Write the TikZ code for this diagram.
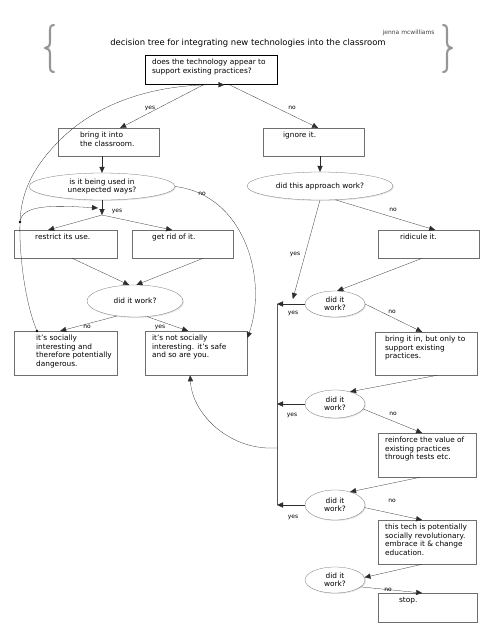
\documentclass[tikz,border=0pt]{standalone}
\usepackage{fontspec}
\setmainfont{DejaVu Sans}
\usepackage{tikz}
\usetikzlibrary{positioning, shapes.geometric, arrows.meta, shadows}
\definecolor{lineColor}{RGB}{45,45,45}
\definecolor{frameColor}{RGB}{110,110,110}
\definecolor{braceColor}{RGB}{150,150,150}
\newcommand{\boxFont}{\fontsize{10.5}{12}\selectfont}
\newcommand{\labelFont}{\fontsize{8.5}{10}\selectfont}
\tikzstyle{pixelGrid} = [x = .5mm, y = -.5mm]
\tikzstyle{shadowStyle} = [drop shadow = {opacity = .2, shadow xshift = .5mm, shadow yshift = -.5mm}]
\tikzstyle{boxStyle} = [draw = frameColor, fill = white, anchor = north west, inner sep = 0pt, shadowStyle]
\tikzstyle{boxText} = [anchor = north west, align = left, inner sep = 0pt, font = \boxFont]
\tikzstyle{questionStyle} = [ellipse, draw = frameColor, fill = white, inner sep = 0pt, align = center, font = \boxFont, shadowStyle]
\tikzstyle{flowArrow} = [draw = lineColor, line width = .4pt, -{Triangle[length = 3mm, width = 2.6mm]}]
\tikzstyle{flowLine} = [draw = lineColor!80, line width = .5pt]
\tikzstyle{branchLabel} = [font = \labelFont, inner sep = 0pt]
\tikzstyle{braceLine} = [draw = braceColor, line width = 3pt, line cap = round, line join = round]
\tikzstyle{loopDot} = [circle, fill = black, inner sep = 0pt, minimum size = 1.3mm]
\newcommand{\decisionBox}[7]{
  \node [boxStyle, minimum width = #4 * .5mm, minimum height = #5 * .5mm] (#1) at (#2, #3) {};
  \node [boxText] (#1Text) at ([xshift = #6 * .5mm, yshift = -2mm] #1.north west) {#7};
}
\newcommand{\questionNode}[6]{\node [questionStyle, minimum width = #4 * .5mm, minimum height = #5 * .5mm] (#1) at (#2, #3) {#6};}

\begin{document}
\begin{tikzpicture}[pixelGrid]
  \useasboundingbox (0,0) rectangle (495,640);
  \draw [braceLine] (54,25) .. controls (50,25) and (50,28) .. (50,32) -- (50,42) .. controls (50,46) and (48,48) .. (45,48) .. controls (48,48) and (50,50) .. (50,54) -- (50,65) .. controls (50,69) and (50,72) .. (54,72);
  \draw [braceLine] (443,25) .. controls (447,25) and (447,28) .. (447,32) -- (447,42) .. controls (447,46) and (449,48) .. (452,48) .. controls (449,48) and (447,50) .. (447,54) -- (447,65) .. controls (447,69) and (447,72) .. (443,72);
  \node [font = \fontsize{12}{14}\selectfont] (title) at (248,43) {decision tree for integrating new technologies into the classroom};
  \node [font = \fontsize{8.5}{10}\selectfont, text = black!75, anchor = east] (author) at (437,33) {jenna mcwilliams};

  \node [boxStyle, draw = black, line width = 1.1pt, minimum width = 66mm, minimum height = 14.5mm] (start) at (145,55) {};
  \node [boxText] (startText) at ([xshift = 3.5mm, yshift = -2mm] start.north west) {does the technology appear to\\support existing practices?};

  \decisionBox{bring}{58}{128}{101}{28}{22}{bring it into\\the classroom.}
  \decisionBox{ignore}{263}{128}{101}{28}{20}{ignore it.}
  \decisionBox{restrict}{14}{230}{103}{28}{21}{restrict its use.}
  \decisionBox{getRid}{132}{230}{101}{28}{20}{get rid of it.}
  \decisionBox{ridicule}{378}{230}{101}{28}{22}{ridicule it.}
  \decisionBox{dangerous}{14}{331}{103}{44}{22}{it's socially\\interesting and\\therefore potentially\\dangerous.}
  \decisionBox{safe}{145}{331}{102}{44}{7}{it's not socially\\interesting. it's safe\\and so are you.}
  \decisionBox{supportOnly}{375}{332}{102}{43}{10}{bring it in, but only to\\support existing\\practices.}
  \decisionBox{reinforce}{378}{433}{98}{44}{7}{reinforce the value of\\existing practices\\through tests etc.}
  \decisionBox{revolution}{378}{520}{98}{44}{7}{this tech is potentially\\socially revolutionary.\\embrace it \& change\\education.}
  \decisionBox{stop}{378}{593}{99}{29}{21}{stop.}

  \questionNode{unexpected}{102}{186.5}{146}{27}{is it being used in\\unexpected ways?}
  \questionNode{approach}{320}{186}{146}{28}{did this approach work?}
  \questionNode{worked}{135}{301}{96}{32}{did it work?}
  \questionNode{workedA}{335}{304}{60}{26}{did it\\work?}
  \questionNode{workedB}{335}{404}{60}{28}{did it\\work?}
  \questionNode{workedC}{335}{505}{60}{30}{did it\\work?}
  \questionNode{workedD}{335}{580}{60}{26}{did it\\work?}

  \coordinate (yesSplit) at (102,215);
  \coordinate (busA) at (277,304);
  \coordinate (busB) at (277,404);
  \coordinate (busC) at (277,505);
  \coordinate (busMid) at (277,448);
  \node [loopDot] (dotLow) at ([xshift = 11.5mm] dangerous.north west) {};
  \node [loopDot] (dotHigh) at (20,222) {};

  \draw [flowArrow] ([xshift = -4mm] start.south) -- ([xshift = 5.75mm] bring.north);
  \draw [flowArrow] ([xshift = 9mm] start.south) -- ([xshift = 2.25mm] ignore.north);
  \draw [flowArrow] (unexpected.north |- bring.south) -- (unexpected.north);
  \draw [flowArrow] (approach.north |- ignore.south) -- (approach.north);
  \draw [flowArrow] (unexpected.south) -- (yesSplit);
  \draw [flowArrow] (yesSplit) -- ([xshift = -8.75mm] restrict.north);
  \draw [flowArrow] (yesSplit) -- ([xshift = -5.25mm] getRid.north);
  \draw [flowArrow] ([xshift = 3.25mm] restrict.south) -- (worked.110);
  \draw [flowArrow] ([xshift = 10.25mm] getRid.south) -- (worked.85);
  \draw [flowArrow] (worked.-140) -- ([xshift = -2.75mm] dangerous.north);
  \draw [flowArrow] (worked.-52) -- ([xshift = -4mm] safe.north);

  \draw [flowArrow] (approach.-42) -- ([xshift = 3.25mm] ridicule.north);
  \draw [flowArrow] (approach.south) -- ([xshift = -6mm, yshift = 2.5mm] workedA.west);
  \draw [flowArrow] ([xshift = -3.25mm] ridicule.south) -- (workedA.80);
  \draw [flowArrow] (workedA.east) -- ([xshift = -2mm] supportOnly.north);
  \draw [flowArrow] ([xshift = 5.5mm] supportOnly.south) -- (workedB.39);
  \draw [flowArrow] (workedB.-10) -- ([xshift = -2.5mm] reinforce.north);
  \draw [flowArrow] ([xshift = -3.5mm] reinforce.south) -- (workedC.41);
  \draw [flowArrow] (workedC.-5) -- ([xshift = -2.5mm] revolution.north);
  \draw [flowArrow] ([xshift = -2.5mm] revolution.south) -- (workedD.5);
  \draw [flowArrow] (workedD.-15) -- ([xshift = -2.75mm] stop.north);

  \draw [flowLine] (busA) -- (busC);
  \draw [flowArrow] (workedA.west) -- (busA);
  \draw [flowArrow] (workedB.west) -- (busB);
  \draw [flowArrow] (workedC.west) -- (busC);
  \draw [flowArrow] (busMid) -- ++(-10,0) .. controls (225,446) and (192,412) .. ([xshift = -3mm] safe.south);

  \draw [flowArrow] (unexpected.east) .. controls (245,195) and (268,280) .. ([yshift = 7.5mm] safe.east);
  \draw [flowArrow] (dotLow.center) .. controls (24,300) and (19,250) .. (dotHigh.center) .. controls (21,190) and (35,165) .. (60,140) .. controls (95,105) and (150,84) .. ([xshift = 6.5mm] start.south);
  \draw [flowArrow] (dotHigh.center) .. controls (22,205) and (50,205) .. ([xshift = -2mm, yshift = 3.5mm] yesSplit);

  \node [branchLabel] (yesStart) at (150,108) {yes};
  \node [branchLabel] (noStart) at (292,108) {no};
  \node [branchLabel] (yesUsed) at (117,211) {yes};
  \node [branchLabel] (noUsed) at (202,194) {no};
  \node [branchLabel] (noApproach) at (393,210) {no};
  \node [branchLabel] (yesApproach) at (295,254) {yes};
  \node [branchLabel] (noWorked) at (87,327) {no};
  \node [branchLabel] (yesWorked) at (160,327) {yes};
  \node [branchLabel] (yesA) at (293,313) {yes};
  \node [branchLabel] (noA) at (392,312) {no};
  \node [branchLabel] (yesB) at (292,415) {yes};
  \node [branchLabel] (noB) at (393,414) {no};
  \node [branchLabel] (yesC) at (293,517) {yes};
  \node [branchLabel] (noC) at (392,501) {no};
  \node [branchLabel] (noD) at (388,590) {no};
\end{tikzpicture}
\end{document}
